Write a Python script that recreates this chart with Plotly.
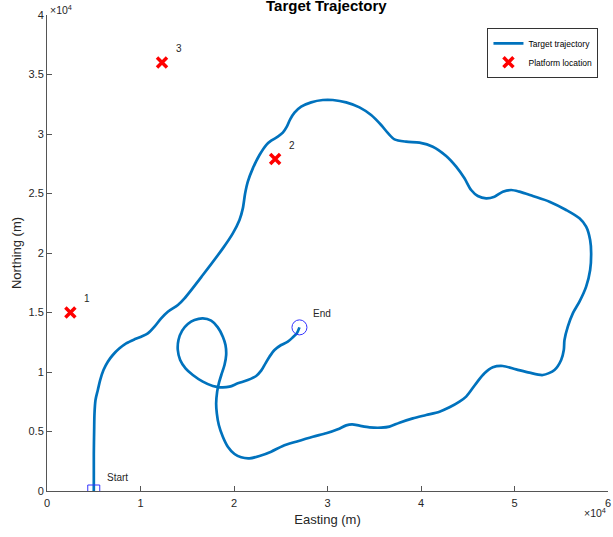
import plotly.graph_objects as go

# Target trajectory (metres)
traj_x = [5000, 5008, 5008, 5044, 5080, 5187, 5436, 5686, 6042, 6505, 7040, 7755, 8467, 9357,
          10070, 10784, 11497, 12210, 12923, 14000, 14706,
          16666, 18805, 19874, 20587, 20944, 21193, 21478, 22013, 22726, 23439, 23974, 24687,
          25221, 25649, 26006, 26470, 27183, 28252, 29499, 30568, 31995, 33421, 34668, 35738,
          36493, 37165, 38412, 39837, 41263, 42689, 43759, 44650, 45364, 46076, 46968, 47859,
          48750, 49642, 50532, 51958, 53741, 55524, 56949, 57662, 58090, 58197, 58090, 57662,
          56949, 56236, 55702, 55345, 55273, 54990, 54276, 53028, 51602, 50176, 48750, 47680,
          46789, 45899, 44828, 44115, 43046, 41977, 40551, 39125, 37699, 36629, 35738, 34491,
          33421, 32637, 31995, 31104, 29857, 28430, 26648, 25221, 23974, 22726, 21657, 20766,
          20053, 19339, 18805, 18376, 18163, 18092, 18199, 18376, 18641,
          18984, 19162, 19090, 18805, 18269, 17557, 16666, 15775, 15061, 14456, 14062, 13990,
          14242, 14814, 15596, 16666, 17734, 18626, 19519, 20408, 21478, 22370, 22904, 23368,
          23796, 24330, 25044, 25756, 26291, 26719, 27000]
traj_y = [0, 84, 3165, 5126, 6526, 7647, 8487, 9327, 10168, 10868, 11428, 11988, 12409, 12745,
          12969, 13249, 13809, 14509, 15069, 15630, 16190,
          18150, 20391, 21652, 22772, 23752, 25013, 25993, 27114, 28234, 29074, 29438, 29775,
          30111, 30615, 31231, 31791, 32296, 32660, 32856, 32856, 32660, 32240, 31595, 30755,
          30050, 29551, 29354, 29270, 28934, 28150, 27254, 26273, 25293, 24789, 24593, 24733,
          25153, 25293, 25153, 24789, 24313, 23612, 22912, 22212, 21092, 19971, 18571, 17170,
          15910, 14930, 13809, 12689, 11848, 11008, 10168, 9747, 9944, 10224, 10504, 10392,
          9888, 9047, 7927, 7507, 7031, 6666, 6386, 6106, 5742, 5406, 5322, 5350,
          5490, 5602, 5518, 5182, 4846, 4565, 4145, 3781, 3305, 2941, 2745, 2829,
          3109, 3725, 4565, 5546, 6526, 7367, 8347, 9047, 9747,
          10588, 11428, 12268, 12969, 13753, 14313, 14509, 14369, 14033, 13473, 12689, 11848,
          11008, 10308, 9747, 9187, 8823, 8711, 8767, 9047, 9327, 9663, 10111, 10728,
          11288, 11848, 12268, 12549, 12913, 13249, 13750]

# Platform locations
plat_x = [2500, 24400, 12300]
plat_y = [15000, 27900, 36000]
plat_labels = ["1", "2", "3"]

start_pt = (5000, 0)
end_pt = (27000, 13750)

x_tickvals = [0, 10000, 20000, 30000, 40000, 50000, 60000]
x_ticktext = ["0", "1", "2", "3", "4", "5", "6"]
y_tickvals = [0, 5000, 10000, 15000, 20000, 25000, 30000, 35000, 40000]
y_ticktext = ["0", "0.5", "1", "1.5", "2", "2.5", "3", "3.5", "4"]

FONT = "Liberation Sans, Arial, sans-serif"
AX = "#262626"

fig = go.Figure()
fig.add_trace(go.Scatter(x=traj_x, y=traj_y, mode="lines", name="Target trajectory",
                         line=dict(color="#0072BD", width=2.7, shape="spline", smoothing=0.8)))
fig.add_trace(go.Scatter(x=plat_x, y=plat_y, mode="markers", name="Platform location",
                         marker=dict(symbol="x-thin", size=10, color="red",
                                     line=dict(color="red", width=3.5))))
fig.add_trace(go.Scatter(x=[start_pt[0]], y=[start_pt[1]], mode="markers", showlegend=False,
                         marker=dict(symbol="square-open", size=12, color="#3333ff",
                                     line=dict(color="#3333ff", width=1))))
fig.add_trace(go.Scatter(x=[end_pt[0]], y=[end_pt[1]], mode="markers", showlegend=False,
                         marker=dict(symbol="circle-open", size=15, color="#3333ff",
                                     line=dict(color="#3333ff", width=1))))

dx, dy = 1250, 1150
annots = []
for px_, py_, lab in zip(plat_x, plat_y, plat_labels):
    annots.append(dict(x=px_ + dx, y=py_ + dy, text=lab, showarrow=False, xanchor="left",
                       yanchor="middle", font=dict(size=10, color="#262626", family=FONT)))
annots.append(dict(x=start_pt[0] + dx, y=start_pt[1] + dy, text="Start", showarrow=False,
                   xanchor="left", yanchor="middle", font=dict(size=10, color="#262626", family=FONT)))
annots.append(dict(x=end_pt[0] + dx, y=end_pt[1] + dy, text="End", showarrow=False,
                   xanchor="left", yanchor="middle", font=dict(size=10, color="#262626", family=FONT)))
# title (partially cut at top, as in reference)
annots.append(dict(xref="paper", yref="paper", x=0.498, y=1.02, text="<b>Target Trajectory</b>",
                   showarrow=False, xanchor="center", yanchor="middle",
                   font=dict(size=15, color="#000000", family=FONT)))
# exponent labels
annots.append(dict(xref="paper", yref="paper", x=0.002, y=1.012, text="×10<sup>4</sup>",
                   showarrow=False, xanchor="left", yanchor="middle",
                   font=dict(size=10.5, color=AX, family=FONT)))
annots.append(dict(xref="paper", yref="paper", x=1.0, y=-0.046, text="×10<sup>4</sup>",
                   showarrow=False, xanchor="right", yanchor="middle",
                   font=dict(size=10.5, color=AX, family=FONT)))

fig.update_layout(
    width=613, height=537,
    margin=dict(l=47, r=5, t=15, b=46, autoexpand=False),
    paper_bgcolor="white", plot_bgcolor="white",
    font=dict(family=FONT, color=AX),
    annotations=annots,
    legend=dict(x=0.983, y=0.973, xanchor="right", yanchor="top",
                bgcolor="white", bordercolor="#333333", borderwidth=1,
                font=dict(size=8.5, color="#000000", family=FONT),
                itemwidth=30, tracegroupgap=0),
    xaxis=dict(range=[0, 60000], tickvals=x_tickvals, ticktext=x_ticktext, automargin=False,
               showgrid=False, zeroline=False, showline=True, linecolor="#555555", linewidth=1,
               ticks="inside", ticklen=5, tickcolor="#555555", ticklabelstandoff=2,
               ticklabeloverflow="allow",
               tickfont=dict(size=11, color=AX, family=FONT),
               title=dict(text="Easting (m)", font=dict(size=13, color=AX, family=FONT), standoff=6)),
    yaxis=dict(range=[0, 40000], tickvals=y_tickvals, ticktext=y_ticktext, automargin=False,
               showgrid=False, zeroline=False, showline=True, linecolor="#555555", linewidth=1,
               ticks="inside", ticklen=5, tickcolor="#555555", ticklabeloverflow="allow",
               tickfont=dict(size=11, color=AX, family=FONT),
               title=dict(text="Northing (m)", font=dict(size=13, color=AX, family=FONT), standoff=3)),
)

fig.write_html("out.html", config={"displayModeBar": False},
               post_script="document.body.style.margin='0';document.body.style.overflow='hidden';")
